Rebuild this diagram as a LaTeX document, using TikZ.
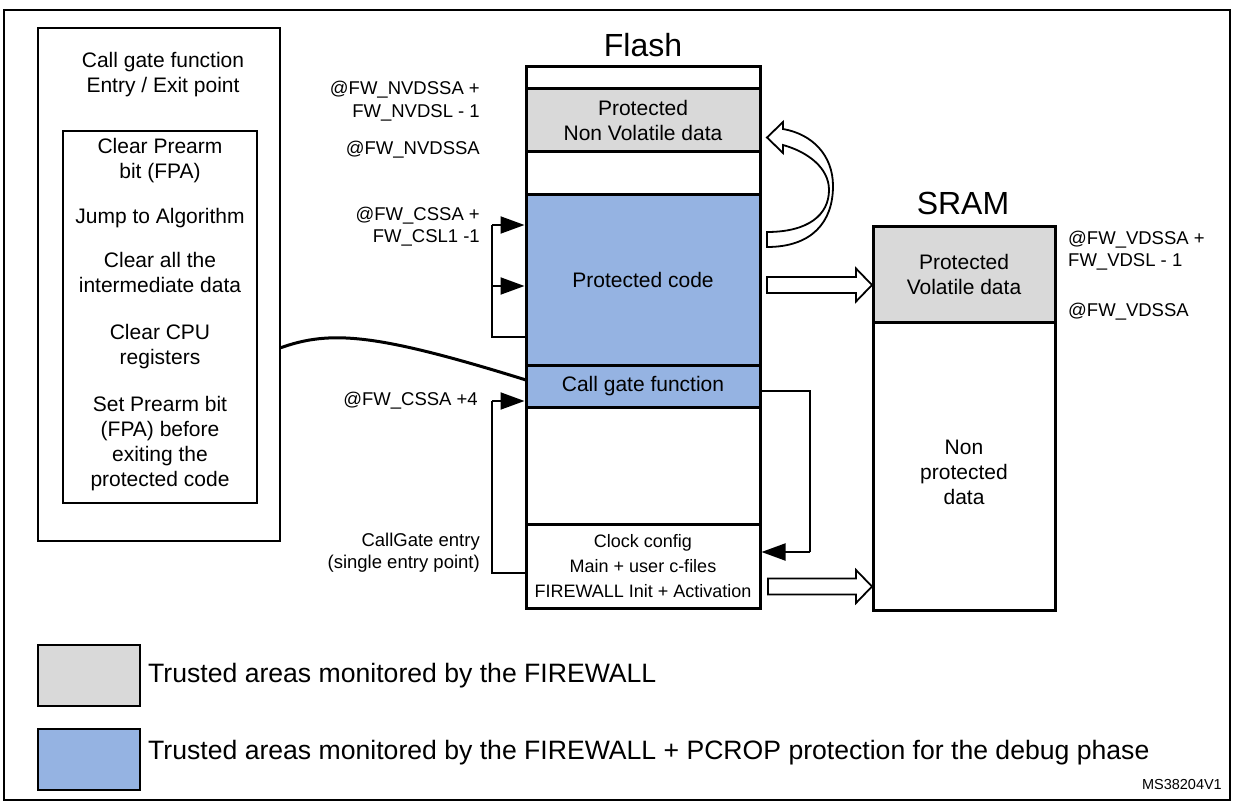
\documentclass[tikz,border=0pt]{standalone}
\usepackage{fontspec}
\setmainfont{Liberation Sans}
\usetikzlibrary{arrows.meta,calc}
\definecolor{trustgray}{RGB}{217,217,217}
\definecolor{pcropblue}{RGB}{149,179,226}
\begin{document}
\begin{tikzpicture}[x=1pt,y=-1pt,
  txt/.style={font=\fontsize{21}{25}\selectfont, align=center, inner sep=0pt},
  small/.style={font=\fontsize{18}{25}\selectfont, align=center, inner sep=0pt},
  lbl/.style={font=\fontsize{18.5}{22.5}\selectfont, inner sep=0pt},
  title/.style={font=\fontsize{32}{36}\selectfont, inner sep=0pt},
  legend/.style={font=\fontsize{26.6}{30}\selectfont, inner sep=0pt, anchor=west},
  flashblk/.style={draw, line width=3pt, minimum width=234pt, inner sep=0pt, align=center, font=\fontsize{21}{25}\selectfont},
  sramblk/.style={draw, line width=3pt, minimum width=182pt, inner sep=0pt, align=center, font=\fontsize{21}{25}\selectfont},
  wire/.style={line width=2pt},
  tip/.style={line width=2pt, -{Triangle[length=24pt,width=17pt]}},
  hollow/.style={draw, fill=white, line width=1.8pt, line join=miter},
  swatch/.style={draw, line width=2pt}
]
\useasboundingbox (0,0) rectangle (1234,805);

% outer frame
\draw[line width=2pt] (4,10) rectangle (1230,800);

% call gate description
\draw[line width=2pt] (38,28) rectangle (280,541);
\node[txt] (cgtitle) at (163,74.5) {Call gate function\\Entry / Exit point};
\draw[line width=1.5pt] (63,131) rectangle (257,503);
\node[txt] (s1) at (160,160.5) {Clear Prearm\\bit (FPA)};
\node[txt] (s2) at (160,218) {Jump to Algorithm};
\node[txt] (s3) at (160,272.5) {Clear all the\\intermediate data};
\node[txt] (s4) at (160,346.5) {Clear CPU\\registers};
\node[txt] (s5) at (160,444) {Set Prearm bit\\(FPA) before\\exiting the\\protected code};
\coordinate (lboxout) at (280,348);

% Flash memory map
\node[title] (flashtitle) at (643,45) {Flash};
\node[flashblk, minimum height=22pt] (ftop) at (643,78) {};
\node[flashblk, minimum height=63pt, fill=trustgray] (fnv) at (643,120.5) {Protected\\Non Volatile data};
\node[flashblk, minimum height=43pt] (fgap) at (643,173.5) {};
\node[flashblk, minimum height=170pt, fill=pcropblue] (fcode) at (643,280) {Protected code};
\node[flashblk, minimum height=42pt, fill=pcropblue] (fgate) at (643,386) {Call gate function};
\node[flashblk, minimum height=117pt] (fmid) at (643,465.5) {};
\node[flashblk, minimum height=84pt, font=\fontsize{18}{25}\selectfont] (fclk) at (643,566) {Clock config\\Main + user c-files\\FIREWALL Init + Activation};

% SRAM memory map
\node[title] (sramtitle) at (963,203) {SRAM};
\node[sramblk, minimum height=95pt, fill=trustgray] (svol) at (964,274.5) {Protected\\Volatile data};
\node[sramblk, minimum height=288pt] (sfree) at (964,466) {};
\node[txt] (snp) at (964,472) {Non\\protected\\data};

% address labels
\node[lbl, anchor=east, align=right] (a1) at (480,101) {@FW\_NVDSSA +\\FW\_NVDSL - 1};
\node[lbl, anchor=east] (a2) at (480,150) {@FW\_NVDSSA};
\node[lbl, anchor=east, align=right] (a3) at (480,226.5) {@FW\_CSSA +\\FW\_CSL1 -1};
\node[lbl, anchor=east] (a4) at (478,401) {@FW\_CSSA +4};
\node[lbl, anchor=east, align=right] (a5) at (480,552.5) {CallGate entry\\(single entry point)};
\node[lbl, anchor=west, align=left] (a6) at (1068,250.5) {@FW\_VDSSA +\\FW\_VDSL - 1};
\node[lbl, anchor=west] (a7) at (1068,312) {@FW\_VDSSA};

% code area bounds
\coordinate (b1) at (492,225);
\coordinate (b2) at (492,286);
\coordinate (b3) at (492,337);
\draw[wire] (b3 -| fcode.west) -- (b3) -- (b1);
\draw[tip] (b1) -- (b1 -| fcode.west);
\draw[tip] (b2) -- (b2 -| fcode.west);

% single entry point
\coordinate (e1) at (492,401);
\coordinate (e2) at (492,573);
\draw[wire] (e2 -| fclk.west) -- (e2) -- (e1);
\draw[tip] (e1) -- (e1 -| fgate.west);

% return from call gate
\coordinate (r1) at (810,391);
\coordinate (r2) at (810,552);
\draw[wire] (r1 -| fgate.east) -- (r1) -- (r2);
\draw[tip] (r2) -- (r2 -| fclk.east);

% link between description and call gate
\coordinate (gatein) at (526,380);
\draw[line width=3pt] (lboxout) .. controls (330,330) and (375,333) .. (gatein);

% data accesses
\draw[hollow] (767,277) -- (856,277) -- (856,268.5) -- (872,285) -- (856,301.5) -- (856,293) -- (767,293) -- cycle;
\draw[hollow] (768,578.5) -- (856,578.5) -- (856,570) -- (872,586.5) -- (856,603) -- (856,594.5) -- (768,594.5) -- cycle;
\draw[hollow] (767,247) .. controls (812,247) and (833,222) .. (833,186)
  .. controls (833,155) and (812,134) .. (783,129) -- (783,122) -- (767,137.5) -- (783,153) -- (783,145)
  .. controls (808,152) and (829,168) .. (829,190)
  .. controls (829,215) and (808,232) .. (767,232) -- cycle;

% legend
\node[swatch, fill=trustgray, minimum width=102pt, minimum height=61pt, inner sep=0pt] (lg1) at (89,675.5) {};
\node[swatch, fill=pcropblue, minimum width=102pt, minimum height=61pt, inner sep=0pt] (lg2) at (89,759.5) {};
\node[legend] (lt1) at (148,676) {Trusted areas monitored by the FIREWALL};
\node[legend] (lt2) at (148,753) {Trusted areas monitored by the FIREWALL + PCROP protection for the debug phase};
\node[font=\fontsize{14.5}{17}\selectfont, inner sep=0pt, anchor=east] (ref) at (1222,785) {MS38204V1};
\end{tikzpicture}
\end{document}
